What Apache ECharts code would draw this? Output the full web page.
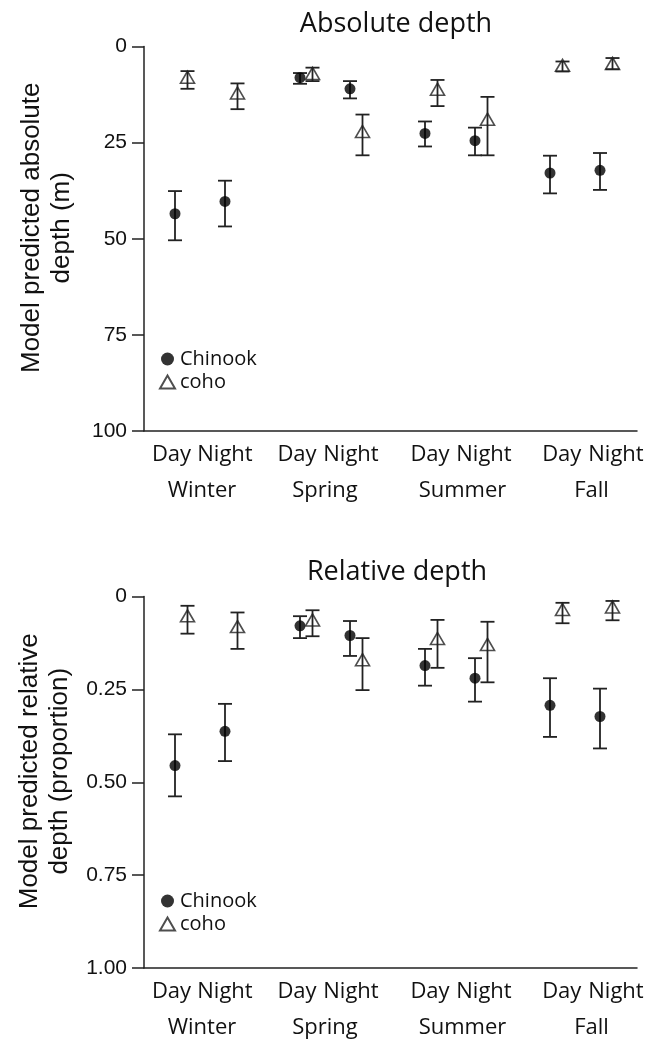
<!DOCTYPE html>
<html><head><meta charset="utf-8">
<script src="https://cdn.jsdelivr.net/npm/echarts@6/dist/echarts.min.js"></script>
<style>html,body{margin:0;padding:0;background:#fff}#c{width:662px;height:1039px}</style>
</head><body><div id="c"></div>
<script>
// ---------------- data ----------------
const seasons = ['Winter', 'Spring', 'Summer', 'Fall'];
const periods = ['Day', 'Night'];
// order: Winter Day, Winter Night, Spring Day, Spring Night, Summer Day, Summer Night, Fall Day, Fall Night
const absChinook     = [43.5, 40.3, 8.1, 11.0, 22.6, 24.5, 32.9, 32.2];
const absChinookLow  = [37.6, 34.9, 6.9, 9.0, 19.5, 21.1, 28.4, 27.7];
const absChinookHigh = [50.4, 46.8, 9.7, 13.5, 26.0, 28.3, 38.2, 37.3];
const absCoho        = [8.0, 12.1, 7.0, 22.1, 11.1, 18.9, 4.9, 4.4];
const absCohoLow     = [6.4, 9.6, 5.5, 17.7, 8.7, 13.1, 3.9, 3.0];
const absCohoHigh    = [11.0, 16.3, 9.0, 28.3, 15.5, 28.3, 6.5, 5.9];
const relChinook     = [0.455, 0.363, 0.079, 0.105, 0.186, 0.220, 0.293, 0.323];
const relChinookLow  = [0.371, 0.289, 0.053, 0.066, 0.141, 0.166, 0.220, 0.248];
const relChinookHigh = [0.538, 0.443, 0.112, 0.160, 0.240, 0.283, 0.378, 0.409];
const relCoho        = [0.052, 0.081, 0.063, 0.170, 0.113, 0.129, 0.035, 0.028];
const relCohoLow     = [0.025, 0.043, 0.037, 0.112, 0.063, 0.068, 0.017, 0.012];
const relCohoHigh    = [0.100, 0.141, 0.107, 0.252, 0.192, 0.231, 0.072, 0.064];
const absTickLabels = ['0', '25', '50', '75', '100'];
const relTickLabels = ['0', '0.25', '0.50', '0.75', '1.00'];
// tick-label positions on the x scale (slot units)
const periodLabelPos = [-0.14, 2, 4.88, 7.04, 10.2, 12.36, 15.47, 17.64];
const seasonLabelPos = [1.08, 6.0, 11.5, 16.66];

// ---------------- layout helpers ----------------
const SEASON_STEP = 5, PERIOD_STEP = 2, SPECIES_OFFSET = 0.5;
function xPos(i, offset) {
  return Math.floor(i / 2) * SEASON_STEP + (i % 2) * PERIOD_STEP + offset;
}
const XMIN = -1.24, XMAX = 18.48;
const INK = '#222';
const textFont = 'Open Sans';

function errSeries(gi, vals, lo, hi, offset) {
  return {
    type: 'custom', xAxisIndex: gi * 2, yAxisIndex: gi, silent: true, z: 2,
    encode: { x: 0, y: [1, 2] },
    data: vals.map((v, i) => [xPos(i, offset), lo[i], hi[i]]),
    renderItem(params, api) {
      const x = api.value(0);
      const p1 = api.coord([x, api.value(1)]);
      const p2 = api.coord([x, api.value(2)]);
      const w = 7;
      const style = { stroke: INK, lineWidth: 1.8, fill: null };
      return { type: 'group', children: [
        { type: 'line', shape: { x1: p1[0], y1: p1[1], x2: p2[0], y2: p2[1] }, style },
        { type: 'line', shape: { x1: p1[0] - w, y1: p1[1], x2: p1[0] + w, y2: p1[1] }, style },
        { type: 'line', shape: { x1: p2[0] - w, y1: p2[1], x2: p2[0] + w, y2: p2[1] }, style }
      ]};
    }
  };
}
function chinookSeries(gi, vals) {
  return { name: 'Chinook', type: 'scatter', xAxisIndex: gi * 2, yAxisIndex: gi, z: 3,
    symbol: 'circle', symbolSize: 11, itemStyle: { color: '#000' },
    data: vals.map((v, i) => [xPos(i, 0), v]) };
}
function cohoSeries(gi, vals) {
  return { name: 'coho', type: 'scatter', xAxisIndex: gi * 2, yAxisIndex: gi, z: 3,
    symbol: 'triangle', symbolSize: [14, 12],
    itemStyle: { color: 'rgba(255,255,255,0)', borderColor: INK, borderWidth: 1.6 },
    data: vals.map((v, i) => [xPos(i, SPECIES_OFFSET), v]) };
}
function xAxes(gi) {
  const base = { gridIndex: gi, type: 'value', min: XMIN, max: XMAX, position: 'bottom',
    splitLine: { show: false }, axisTick: { show: false } };
  return [
    Object.assign({}, base, {
      axisLine: { show: true, onZero: false, lineStyle: { color: INK, width: 1.5 } },
      axisLabel: { customValues: periodLabelPos, margin: 13, color: '#111', fontFamily: textFont, fontSize: 22,
        formatter: v => periods[periodLabelPos.indexOf(v) % 2] }
    }),
    Object.assign({}, base, {
      axisLine: { show: false, onZero: false },
      axisLabel: { customValues: seasonLabelPos, margin: 49, color: '#111', fontFamily: textFont, fontSize: 22,
        formatter: v => seasons[seasonLabelPos.indexOf(v)] }
    })
  ];
}
function yAxis(gi, max, labels, name) {
  return { gridIndex: gi, type: 'value', inverse: true, min: 0, max: max, interval: max / 4,
    splitLine: { show: false },
    axisLine: { show: true, onZero: false, lineStyle: { color: INK, width: 1.5 } },
    axisTick: { show: true, length: 12, lineStyle: { color: INK, width: 1.5 } },
    axisLabel: { margin: 17, color: '#111', fontFamily: 'Liberation Sans', fontSize: 21,
      formatter: v => labels[Math.round(v / (max / 4))] },
    name: name, nameLocation: 'middle', nameGap: 67,
    nameTextStyle: { color: '#111', fontFamily: 'Liberation Sans', fontSize: 26, lineHeight: 30,
      padding: [0, 0, 0, 22] } };
}
function legend(top) {
  return { orient: 'vertical', left: 159, top: top, itemWidth: 15, itemHeight: 13, itemGap: 3, padding: 0,
    data: ['Chinook', 'coho'], selectedMode: false,
    textStyle: { fontFamily: textFont, fontSize: 20, color: '#111' } };
}

const chart = echarts.init(document.getElementById('c'), null, { renderer: 'canvas' });
chart.setOption({
  backgroundColor: '#fff',
  animation: false,
  graphic: [
    { type: 'text', x: 396, y: 24, style: { text: 'Absolute depth', font: '27px "Open Sans"', fill: '#111', textAlign: 'center', textVerticalAlign: 'middle', align: 'center', verticalAlign: 'middle' } },
    { type: 'text', x: 397, y: 572, style: { text: 'Relative depth', font: '27px "Open Sans"', fill: '#111', textAlign: 'center', textVerticalAlign: 'middle', align: 'center', verticalAlign: 'middle' } }
  ],
  grid: [
    { left: 144, top: 46.5, width: 493, height: 384.5 },
    { left: 144, top: 596.5, width: 493, height: 375.5 }
  ],
  legend: [legend(349), legend(891)],
  xAxis: xAxes(0).concat(xAxes(1)),
  yAxis: [
    yAxis(0, 100, absTickLabels, 'Model predicted absolute\ndepth (m)'),
    yAxis(1, 1, relTickLabels, 'Model predicted relative\ndepth (proportion)')
  ],
  series: [
    errSeries(0, absChinook, absChinookLow, absChinookHigh, 0),
    errSeries(0, absCoho, absCohoLow, absCohoHigh, SPECIES_OFFSET),
    chinookSeries(0, absChinook),
    cohoSeries(0, absCoho),
    errSeries(1, relChinook, relChinookLow, relChinookHigh, 0),
    errSeries(1, relCoho, relCohoLow, relCohoHigh, SPECIES_OFFSET),
    chinookSeries(1, relChinook),
    cohoSeries(1, relCoho)
  ]
});
</script></body></html>
